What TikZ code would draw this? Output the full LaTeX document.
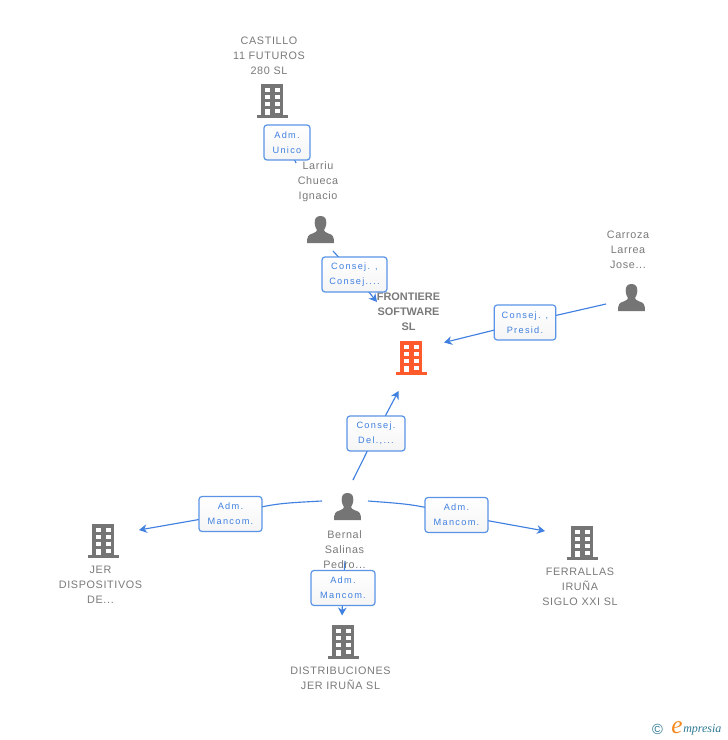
\documentclass[tikz,border=0pt]{standalone}
\usepackage{fontspec}
\setmainfont{Liberation Sans}
\newfontfamily\lblfont[LetterSpace=6]{Liberation Sans}
\newfontfamily\boxfont[LetterSpace=14]{Liberation Sans}
\newfontfamily\boldlbl[LetterSpace=0]{Liberation Sans Bold}
\newfontfamily\logofont{Liberation Serif Italic}
\usetikzlibrary{arrows.meta,backgrounds}
\definecolor{icongrey}{HTML}{757575}
\definecolor{txtgrey}{HTML}{7A7A7A}
\definecolor{linkblue}{HTML}{3F80E0}
\definecolor{boxblue}{HTML}{5A94E6}
\definecolor{hot}{HTML}{FF5A2B}
\definecolor{logoteal}{HTML}{2F7A94}
\definecolor{logoorange}{HTML}{F58A1F}
\tikzset{
  x=0.75pt,y=-0.75pt,
  lbl/.style={inner sep=0pt,align=center,text=txtgrey,font=\fontsize{8.1pt}{11.25pt}\selectfont\lblfont},
  lblbold/.style={inner sep=0pt,align=center,text=txtgrey,font=\fontsize{8.2pt}{11.25pt}\selectfont\boldlbl},
  linkbox/.style={draw=boxblue,line width=0.9pt,rounded corners=2.2pt,top color=white,bottom color=black!4,
    inner sep=0pt,align=center,text=linkblue,font=\fontsize{6.9pt}{11.25pt}\selectfont\boxfont},
  conn/.style={draw=linkblue,line width=0.85pt},
  arr/.style={conn,-{Stealth[length=6pt,width=6.5pt]}},
  pics/bld/.style={code={
    \fill[#1] (-11,0) rectangle (11,31);
    \fill[#1] (-15.5,31) rectangle (16,34);
    \foreach \yy in {4,11,18}{
      \fill[white] (-7,\yy) rectangle (-2.5,\yy+4);
      \fill[white] (3,\yy) rectangle (7.5,\yy+4);
    }
    \fill[white] (3,24.5) rectangle (7.5,28.5);
    \fill[white] (-7,25) rectangle (-2.5,31);
  }},
  pics/psn/.style={code={
    \fill[icongrey] (0,0) .. controls (-4.5,0) and (-6,3) .. (-5.8,7)
      .. controls (-5.6,10.5) and (-4.5,12.5) .. (-3.5,14)
      .. controls (-3.5,15.5) and (-5,16.3) .. (-8,17.5)
      .. controls (-12,18.8) and (-13.5,20) .. (-13.5,27)
      -- (13.5,27)
      .. controls (13.5,20) and (12,18.8) .. (8,17.5)
      .. controls (5,16.3) and (3.5,15.5) .. (3.5,14)
      .. controls (4.5,12.5) and (5.6,10.5) .. (5.8,7)
      .. controls (6,3) and (4.5,0) .. (0,0) -- cycle;
  }}
}
\begin{document}
\begin{tikzpicture}
\useasboundingbox (0,0) rectangle (728,740);
\begin{pgfonlayer}{background}
  \fill[white] (0,0) rectangle (728,740);
\end{pgfonlayer}

% icons
\pic at (272,84) {bld=icongrey};
\pic at (411,341) {bld=hot};
\pic at (103,524) {bld=icongrey};
\pic at (582,526) {bld=icongrey};
\pic at (343,625) {bld=icongrey};
\pic at (320.5,216) {psn};
\pic at (631.5,284) {psn};
\pic at (347.5,493) {psn};

% labels
\node[lbl] (castillo) at (269,55.5) {CASTILLO\\11 FUTUROS\\280 SL};
\node[lbl] (larriu) at (318,182) {Larriu\\Chueca\\Ignacio};
\node[lbl] (carroza) at (628,250) {Carroza\\Larrea\\Jose...};
\node[lblbold] (frontiere) at (408.5,311.5) {FRONTIERE\\SOFTWARE\\SL};
\node[lbl] (bernal) at (344.5,549.5) {Bernal\\Salinas\\Pedro...};
\node[lbl] (jer) at (100.5,585) {JER\\DISPOSITIVOS\\DE...};
\node[lbl] (ferrallas) at (580,587) {FERRALLAS\\IRUÑA\\SIGLO XXI SL};
\node[lbl] (distrib) at (340.5,678) {DISTRIBUCIONES\\JER IRUÑA SL};

% link boxes
\node[linkbox,minimum width=34.5pt,minimum height=26.2pt] (b1) at (287,142.5) {Adm.\\Unico};
\node[linkbox,minimum width=48.7pt,minimum height=26.2pt] (b2) at (354.5,274.5) {Consej. ,\\Consej....};
\node[linkbox,minimum width=46.2pt,minimum height=26.2pt] (b3) at (525,322.5) {Consej. ,\\Presid.};
\node[linkbox,minimum width=43.5pt,minimum height=26.2pt] (b4) at (376,433.5) {Consej.\\Del.,...};
\node[linkbox,minimum width=47.2pt,minimum height=26.2pt] (b5) at (230.5,514) {Adm.\\Mancom.};
\node[linkbox,minimum width=47.2pt,minimum height=26.2pt] (b6) at (456.5,515) {Adm.\\Mancom.};
\node[linkbox,minimum width=48pt,minimum height=26.2pt] (b7) at (343,588) {Adm.\\Mancom.};

% connector ends
\coordinate (c1a) at (278,125);
\coordinate (c1b) at (296,163);
\coordinate (c2a) at (333,251);
\coordinate (c2b) at (377,302);
\coordinate (c3a) at (606,304);
\coordinate (c3b) at (444,342.5);
\coordinate (c4a) at (353,480);
\coordinate (c4b) at (398.5,391);
\coordinate (c5a) at (322,501);
\coordinate (c5b) at (139,530);
\coordinate (c6a) at (368,501);
\coordinate (c6b) at (545,531);
\coordinate (c7a) at (345,561);
\coordinate (c7b) at (342,615.5);

\begin{pgfonlayer}{background}
  \draw[conn] (c1a) -- (b1.center) -- (c1b);
  \draw[arr] (c2a) -- (b2.center) -- (c2b);
  \draw[arr] (c3a) -- (b3.center) -- (c3b);
  \draw[arr] (c4a) -- (b4.center) -- (c4b);
  \draw[arr] (c5a) .. controls (275,503.5) .. (b5.center) -- (c5b);
  \draw[arr] (c6a) .. controls (415,504.5) .. (b6.center) -- (c6b);
  \draw[arr] (c7a) -- (b7.center) -- (c7b);
\end{pgfonlayer}

% logo
\node[inner sep=0pt,text=logoteal,font=\fontsize{11pt}{12pt}\selectfont] (copyr) at (657.5,729) {©};
\node[inner sep=0pt,text=logoorange,font=\fontsize{19pt}{20pt}\selectfont\logofont] (logoe) at (677,727.5) {e};
\node[inner sep=0pt,anchor=west,text=logoteal,font=\fontsize{9pt}{10pt}\selectfont\logofont] (logot) at (683,729.5) {mpresia};
\end{tikzpicture}
\end{document}
